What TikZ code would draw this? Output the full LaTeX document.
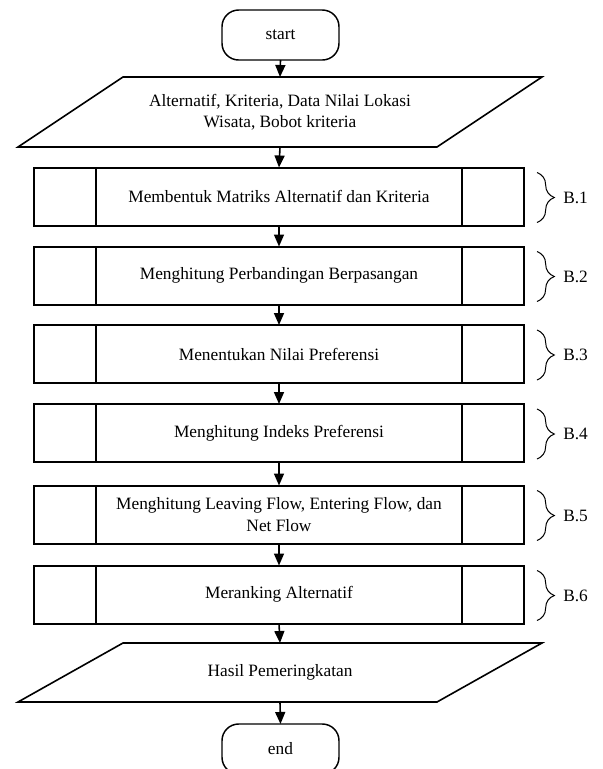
\documentclass[tikz,border=0pt]{standalone}
\usepackage{fontspec}
\setmainfont{Liberation Serif}
\usetikzlibrary{arrows.meta,positioning,decorations.pathreplacing,calc}
\tikzset{
  txt/.style={font=\fontsize{13}{16}\selectfont},
  termbox/.style={txt, draw, line width=1.1pt, rounded corners=12.5pt, align=center, minimum width=87.75pt, minimum height=37.5pt, outer sep=0pt},
  iobox/.style={txt, align=center, minimum width=314.25pt, minimum height=52.5pt, inner sep=0pt, outer sep=0pt},
  procbox/.style={txt, draw, line width=1.5pt, align=center, minimum width=367.5pt, minimum height=43.5pt, outer sep=0pt},
  iofrm/.style={line width=1.2pt, line join=miter},
  sidebar/.style={line width=1pt},
  stepbrace/.style={decorate, decoration={brace, amplitude=13pt}, line width=0.75pt},
  steplabel/.style={txt},
  arrow/.style={-{Triangle[length=9pt, width=7.5pt]}, line width=1.2pt}
}

\begin{document}
\begin{tikzpicture}[x=0.75pt, y=-0.75pt]
  \useasboundingbox (0,0) rectangle (603,769);
  \node[termbox] (start) at (280.5,35) {start};
  \node[iobox] (in) at (280,112) {Alternatif, Kriteria, Data Nilai Lokasi\\Wisata, Bobot kriteria};
  \node[procbox] (b1) at (279,196.5) {Membentuk Matriks Alternatif dan Kriteria};
  \node[procbox] (b2) at (279,275.5) {Menghitung Perbandingan Berpasangan};
  \node[procbox] (b3) at (279,354) {Menentukan Nilai Preferensi};
  \node[procbox] (b4) at (279,433) {Menghitung Indeks Preferensi};
  \node[procbox] (b5) at (279,514.5) {Menghitung Leaving Flow, Entering Flow, dan\\Net Flow};
  \node[procbox] (b6) at (279,594.5) {Meranking Alternatif};
  \node[iobox, minimum height=44.25pt] (out) at (280,672.5) {Hasil Pemeringkatan};
  \node[termbox] (end) at (280.5,749) {end};
  % slanted input/output frames
  \draw[iofrm] ([xshift=-39.375pt]in.south west) -- ([xshift=39.375pt]in.north west) -- ([xshift=39.375pt]in.north east) -- ([xshift=-39.375pt]in.south east) -- cycle;
  \draw[iofrm] ([xshift=-39.375pt]out.south west) -- ([xshift=39.375pt]out.north west) -- ([xshift=39.375pt]out.north east) -- ([xshift=-39.375pt]out.south east) -- cycle;
  % side bars of the process boxes
  \draw[sidebar] ([xshift=46.5pt]b1.north west) -- ([xshift=46.5pt]b1.south west) ([xshift=-46.5pt]b1.north east) -- ([xshift=-46.5pt]b1.south east);
  \draw[sidebar] ([xshift=46.5pt]b2.north west) -- ([xshift=46.5pt]b2.south west) ([xshift=-46.5pt]b2.north east) -- ([xshift=-46.5pt]b2.south east);
  \draw[sidebar] ([xshift=46.5pt]b3.north west) -- ([xshift=46.5pt]b3.south west) ([xshift=-46.5pt]b3.north east) -- ([xshift=-46.5pt]b3.south east);
  \draw[sidebar] ([xshift=46.5pt]b4.north west) -- ([xshift=46.5pt]b4.south west) ([xshift=-46.5pt]b4.north east) -- ([xshift=-46.5pt]b4.south east);
  \draw[sidebar] ([xshift=46.5pt]b5.north west) -- ([xshift=46.5pt]b5.south west) ([xshift=-46.5pt]b5.north east) -- ([xshift=-46.5pt]b5.south east);
  \draw[sidebar] ([xshift=46.5pt]b6.north west) -- ([xshift=46.5pt]b6.south west) ([xshift=-46.5pt]b6.north east) -- ([xshift=-46.5pt]b6.south east);
  % flow
  \draw[arrow] (start.south) -- (in.north);
  \draw[arrow] (in.south) -- (b1.north);
  \draw[arrow] (b1.south) -- (b2.north);
  \draw[arrow] (b2.south) -- (b3.north);
  \draw[arrow] (b3.south) -- (b4.north);
  \draw[arrow] (b4.south) -- (b5.north);
  \draw[arrow] (b5.south) -- (b6.north);
  \draw[arrow] (b6.south) -- (out.north);
  \draw[arrow] (out.south) -- (end.north);
  % step braces
  \draw[stepbrace] ([shift={(9.75pt,-3.75pt)}]b1.north east) -- node[steplabel, right=16pt] (l1) {B.1} ([shift={(9.75pt,2.25pt)}]b1.south east);
  \draw[stepbrace] ([shift={(9.75pt,-3.75pt)}]b2.north east) -- node[steplabel, right=16pt] (l2) {B.2} ([shift={(9.75pt,2.25pt)}]b2.south east);
  \draw[stepbrace] ([shift={(9.75pt,-3.75pt)}]b3.north east) -- node[steplabel, right=16pt] (l3) {B.3} ([shift={(9.75pt,2.25pt)}]b3.south east);
  \draw[stepbrace] ([shift={(9.75pt,-3.75pt)}]b4.north east) -- node[steplabel, right=16pt] (l4) {B.4} ([shift={(9.75pt,2.25pt)}]b4.south east);
  \draw[stepbrace] ([shift={(9.75pt,-3.75pt)}]b5.north east) -- node[steplabel, right=16pt] (l5) {B.5} ([shift={(9.75pt,2.25pt)}]b5.south east);
  \draw[stepbrace] ([shift={(9.75pt,-3.75pt)}]b6.north east) -- node[steplabel, right=16pt] (l6) {B.6} ([shift={(9.75pt,2.25pt)}]b6.south east);
\end{tikzpicture}
\end{document}
